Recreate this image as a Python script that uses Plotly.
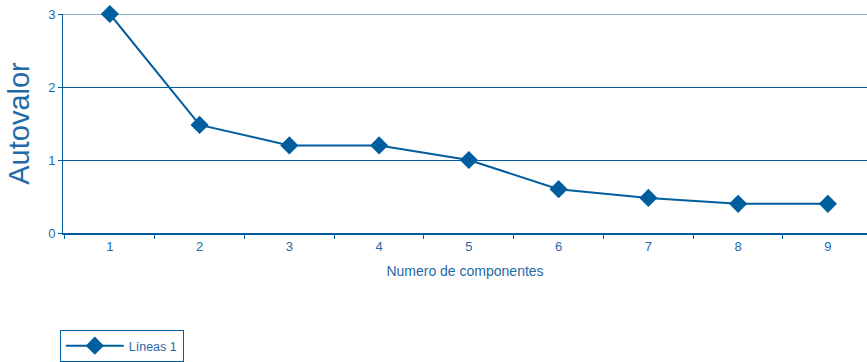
import plotly.graph_objects as go

componentes = [1, 2, 3, 4, 5, 6, 7, 8, 9]
autovalores = [3.0, 1.48, 1.2, 1.2, 1.0, 0.6, 0.48, 0.4, 0.4]
serie = "Líneas 1"

line_col = "#005e9e"
text_col = "#1f6aa8"

fig = go.Figure()
fig.add_trace(go.Scatter(
    x=componentes, y=autovalores, mode="lines+markers", name=serie,
    line=dict(color=line_col, width=2),
    marker=dict(symbol="diamond", size=14, color=line_col),
    showlegend=True, cliponaxis=False,
))

# top gridline (value 3) that plotly omits at the edge of the range
fig.add_shape(type="line", xref="paper", x0=0, x1=1, yref="y", y0=3, y1=3,
              line=dict(color=line_col, width=1), layer="below")

fig.update_layout(
    width=867, height=362,
    margin=dict(l=63, r=0, t=14, b=127),
    paper_bgcolor="white", plot_bgcolor="white",
    font=dict(family="Liberation Sans, Arial, sans-serif", color=text_col, size=12),
    xaxis=dict(
        range=[0.478, 9.436], tickmode="array", tickvals=componentes,
        ticks="", showgrid=False, zeroline=False,
        showline=True, linecolor=line_col, linewidth=2,
        tickfont=dict(size=13, color=text_col),
        minor=dict(ticks="outside", tick0=0.5, dtick=1, ticklen=4, tickcolor=line_col, tickwidth=1, showgrid=False),
        title=dict(text="Numero de componentes", font=dict(size=14, color=text_col), standoff=14),
    ),
    yaxis=dict(
        range=[0, 3], tickvals=[0, 1, 2, 3], ticks="outside", ticklen=4, tickcolor=line_col,
        showgrid=True, gridcolor=line_col, gridwidth=1, zeroline=False,
        showline=True, linecolor=line_col, linewidth=1,
        tickfont=dict(size=13, color=text_col),
        title=dict(text="Autovalor", font=dict(size=29, color=text_col), standoff=10),
    ),
    legend=dict(
        x=-0.004, y=-0.443, xanchor="left", yanchor="top",
        bordercolor=line_col, borderwidth=1, bgcolor="white",
        font=dict(size=12.5, color=text_col), itemwidth=58,
    ),
)

fig.write_html("out.html")
